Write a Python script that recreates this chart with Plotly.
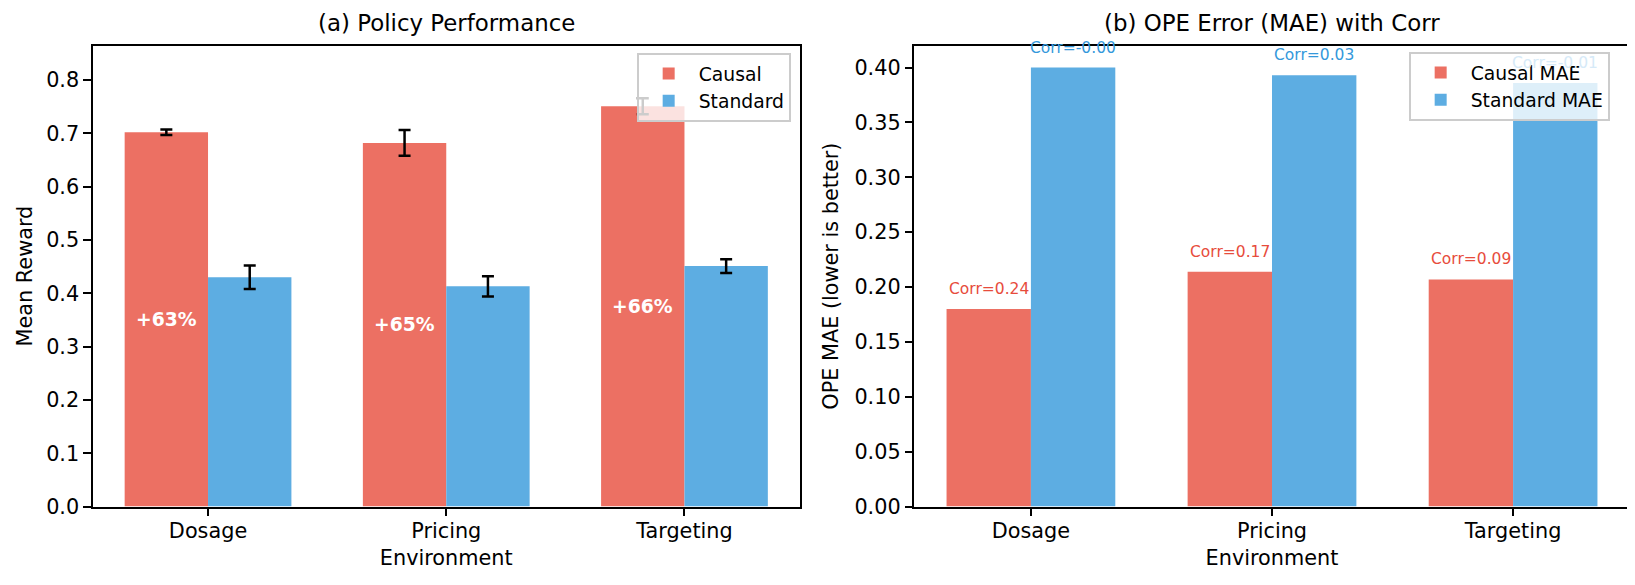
import plotly.graph_objects as go

# ---- data ----
environments = ["Dosage", "Pricing", "Targeting"]
causal_reward = [0.702, 0.682, 0.751]
causal_err = [0.005, 0.024, 0.015]
standard_reward = [0.430, 0.413, 0.451]
standard_err = [0.022, 0.019, 0.013]
gain_labels = ["+63%", "+65%", "+66%"]

causal_mae = [0.180, 0.214, 0.207]
standard_mae = [0.400, 0.393, 0.386]
corr_causal = ["Corr=0.24", "Corr=0.17", "Corr=0.09"]
corr_standard = ["Corr=-0.00", "Corr=0.03", "Corr=-0.01"]

RED = "#EC7063"
BLUE = "#5DADE2"
RED_TXT = "#E74C3C"
BLUE_TXT = "#3498DB"
BLUE_TXT_FADED = "#D6EAF8"   # label seen through the semi-transparent legend
FONT = "DejaVu Sans"
W = 0.35
xs = list(range(len(environments)))

X1 = [84.5 / 1635, 792 / 1635]
X2 = [906 / 1635, 1622 / 1635]
YD = [(585 - 509) / 585, (585 - 38.4) / 585]

fig = go.Figure()

# (a) policy performance
fig.add_trace(go.Bar(x=xs, y=causal_reward, width=W, offset=-W, name="Causal",
                     marker=dict(color=RED, line=dict(width=0)),
                     error_y=dict(type="data", array=causal_err, color="black", thickness=2.5, width=6),
                     xaxis="x", yaxis="y", legend="legend"))
fig.add_trace(go.Bar(x=xs, y=standard_reward, width=W, offset=0, name="Standard",
                     marker=dict(color=BLUE, line=dict(width=0)),
                     error_y=dict(type="data", array=standard_err, color="black", thickness=2.5, width=6),
                     xaxis="x", yaxis="y", legend="legend"))

# (b) OPE error
fig.add_trace(go.Bar(x=xs, y=causal_mae, width=W, offset=-W, name="Causal MAE",
                     marker=dict(color=RED, line=dict(width=0)),
                     xaxis="x2", yaxis="y2", legend="legend2"))
fig.add_trace(go.Bar(x=xs, y=standard_mae, width=W, offset=0, name="Standard MAE",
                     marker=dict(color=BLUE, line=dict(width=0)),
                     xaxis="x2", yaxis="y2", legend="legend2"))

annotations = []
for i, x in enumerate(xs):
    annotations.append(dict(x=x - W / 2, y=causal_reward[i] / 2, xref="x", yref="y",
                            text="<b>%s</b>" % gain_labels[i], showarrow=False,
                            font=dict(family=FONT, size=18.75, color="white"),
                            xanchor="center", yanchor="middle"))
    annotations.append(dict(x=x - W / 2, y=causal_mae[i] + 0.01, xref="x2", yref="y2",
                            text=corr_causal[i], showarrow=False,
                            font=dict(family=FONT, size=15.5, color=RED_TXT),
                            xanchor="center", yanchor="bottom", yshift=-2))
    std_col = BLUE_TXT_FADED if i == len(xs) - 1 else BLUE_TXT
    annotations.append(dict(x=x + W / 2, y=standard_mae[i] + 0.01, xref="x2", yref="y2",
                            text=corr_standard[i], showarrow=False,
                            font=dict(family=FONT, size=15.5, color=std_col),
                            xanchor="center", yanchor="bottom", yshift=-2))

# subplot titles
TY = (585 - 15) / 585
annotations.append(dict(x=sum(X1) / 2, y=TY, xref="paper", yref="paper",
                        text="(a) Policy Performance", showarrow=False,
                        font=dict(family=FONT, size=22.9, color="black"),
                        xanchor="center", yanchor="middle"))
annotations.append(dict(x=sum(X2) / 2, y=TY, xref="paper", yref="paper",
                        text="(b) OPE Error (MAE) with Corr", showarrow=False,
                        font=dict(family=FONT, size=22.9, color="black"),
                        xanchor="center", yanchor="middle"))

axis_common = dict(showline=True, linecolor="black", linewidth=1.67, mirror=True,
                   ticks="outside", ticklen=7.3, tickwidth=1.67, tickcolor="black",
                   showgrid=False, zeroline=False,
                   tickfont=dict(family=FONT, size=20.8, color="black"))

xaxis_common = dict(axis_common, range=[-0.485, 2.485], tickmode="array",
                    tickvals=xs, ticktext=environments, ticklabelstandoff=-3,
                    title=dict(text="Environment", font=dict(family=FONT, size=20.8, color="black"),
                               standoff=9))

legend_common = dict(bgcolor="rgba(255,255,255,0.8)", bordercolor="#CCCCCC", borderwidth=1.67,
                     font=dict(family=FONT, size=18.75, color="black"),
                     xanchor="right", yanchor="top", tracegroupgap=0, itemwidth=50)

fig.update_layout(
    width=1635, height=585,
    margin=dict(l=0, r=0, t=0, b=0),
    paper_bgcolor="white", plot_bgcolor="white",
    barmode="overlay",
    font=dict(family=FONT, color="black"),
    xaxis=dict(xaxis_common, domain=X1, anchor="y"),
    yaxis=dict(axis_common, domain=YD, anchor="x", range=[0, 0.8645],
               tickvals=[0, 0.1, 0.2, 0.3, 0.4, 0.5, 0.6, 0.7, 0.8], tickformat=".1f",
               title=dict(text="Mean Reward", font=dict(family=FONT, size=20.8, color="black"),
                          standoff=8)),
    xaxis2=dict(xaxis_common, domain=X2, anchor="y2"),
    yaxis2=dict(axis_common, domain=YD, anchor="x2", range=[0, 0.42],
                tickvals=[0, 0.05, 0.1, 0.15, 0.2, 0.25, 0.3, 0.35, 0.4], tickformat=".2f",
                title=dict(text="OPE MAE (lower is better)",
                           font=dict(family=FONT, size=20.8, color="black"), standoff=10)),
    legend=dict(legend_common, x=783 / 1635, y=(585 - 46) / 585),
    legend2=dict(legend_common, x=1602 / 1635, y=(585 - 45) / 585),
    annotations=annotations,
    showlegend=True,
)

fig.write_html("out.html")
